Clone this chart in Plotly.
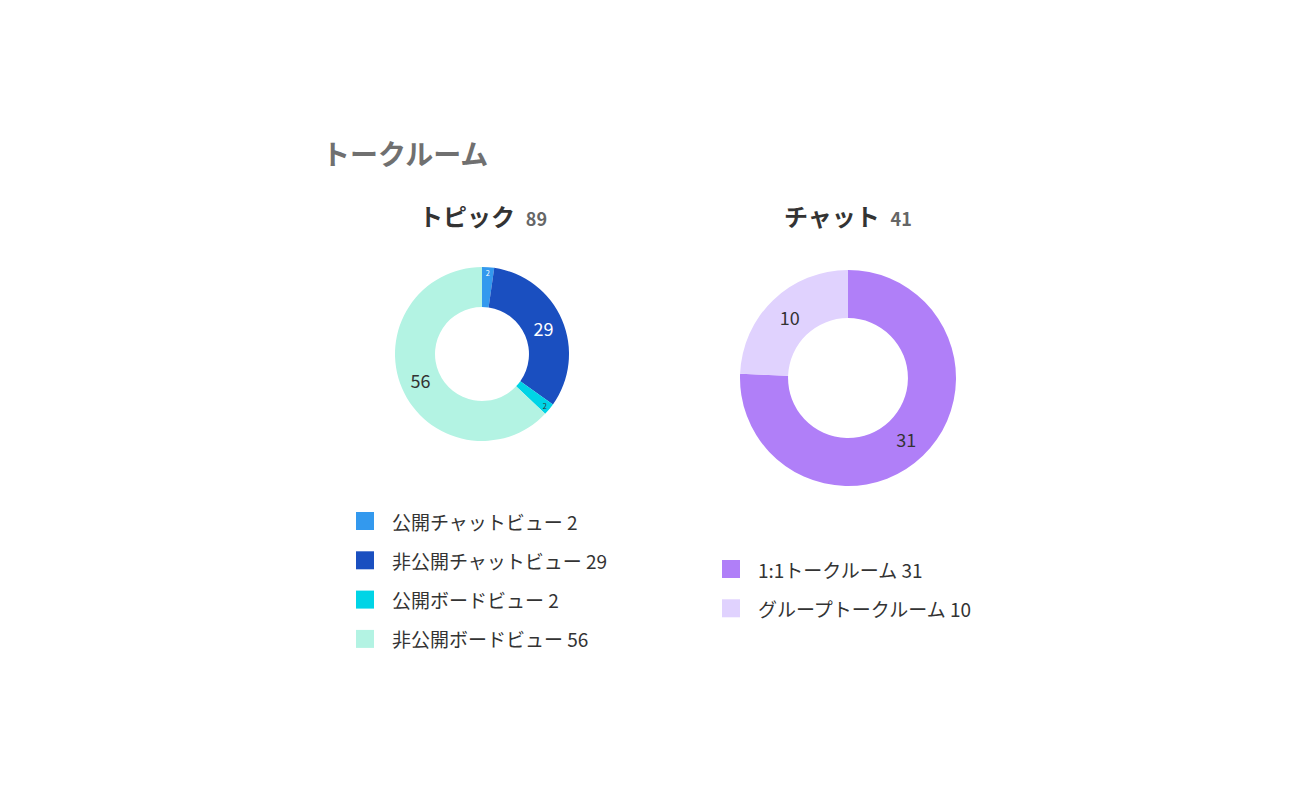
import plotly.graph_objects as go

W, H = 1290, 800
topic_labels = ["公開チャットビュー", "非公開チャットビュー", "公開ボードビュー", "非公開ボードビュー"]
topic_values = [2, 29, 2, 56]
topic_colors = ["#3399ee", "#1a4fc0", "#00d4e6", "#b3f3e3"]
topic_text_colors = ["#ffffff", "#ffffff", "#333333", "#333333"]

chat_labels = ["1:1トークルーム", "グループトークルーム"]
chat_values = [31, 10]
chat_colors = ["#b07ff8", "#e0d2fe"]
chat_text_colors = ["#333333", "#333333"]

FONT = "Noto Sans CJK JP, Noto Sans, sans-serif"

fig = go.Figure()
fig.add_trace(go.Pie(values=topic_values, labels=topic_labels, hole=0.54, sort=False,
                     direction="clockwise", rotation=0, textinfo="value", textposition="inside",
                     insidetextorientation="horizontal",
                     marker=dict(colors=topic_colors, line=dict(width=0)),
                     textfont=dict(size=18, color=topic_text_colors, family=FONT),
                     domain=dict(x=[387/W, 561/W], y=[1-433/H, 1-259/H]), showlegend=False,
                     hoverinfo="label+value"))
fig.add_trace(go.Pie(values=chat_values, labels=chat_labels, hole=0.555, sort=False,
                     direction="clockwise", rotation=0, textinfo="value", textposition="inside",
                     insidetextorientation="horizontal",
                     marker=dict(colors=chat_colors, line=dict(width=0)),
                     textfont=dict(size=18, color=chat_text_colors, family=FONT),
                     domain=dict(x=[732/W, 948/W], y=[1-478/H, 1-262/H]), showlegend=False,
                     hoverinfo="label+value"))

shapes, annots = [], []
def px(x, y, **kw):
    return dict(x=x/W, y=1-y/H, xref="paper", yref="paper", showarrow=False, **kw)

annots.append(px(312, 145, text="<b>トークルーム</b>", xanchor="left", yanchor="middle",
                 font=dict(size=28, color="#707070", family=FONT)))
annots.append(px(475, 207, text="<b>トピック</b>  <span style='font-size:18px;color:#666'><b>%d</b></span>" % sum(topic_values),
                 xanchor="center", yanchor="middle", font=dict(size=24, color="#333", family=FONT)))
annots.append(px(840, 207, text="<b>チャット</b>  <span style='font-size:18px;color:#666'><b>%d</b></span>" % sum(chat_values),
                 xanchor="center", yanchor="middle", font=dict(size=24, color="#333", family=FONT)))

def legend(labels, values, colors, x0, y0):
    for i, (l, v, c) in enumerate(zip(labels, values, colors)):
        y = y0 + i * 39.3
        shapes.append(dict(type="rect", xref="paper", yref="paper", x0=x0/W, x1=(x0+18)/W,
                           y0=1-(y+9)/H, y1=1-(y-9)/H, fillcolor=c, line=dict(width=0)))
        annots.append(px(x0+34, y, text="%s %d" % (l, v), xanchor="left", yanchor="middle",
                         font=dict(size=19, color="#333", family=FONT)))

legend(topic_labels, topic_values, topic_colors, 348, 513)
legend(chat_labels, chat_values, chat_colors, 714, 561)

fig.update_layout(width=W, height=H, margin=dict(l=0, r=0, t=0, b=0),
                  paper_bgcolor="white", plot_bgcolor="white",
                  shapes=shapes, annotations=annots, font=dict(family=FONT))
fig.write_html("out.html")
